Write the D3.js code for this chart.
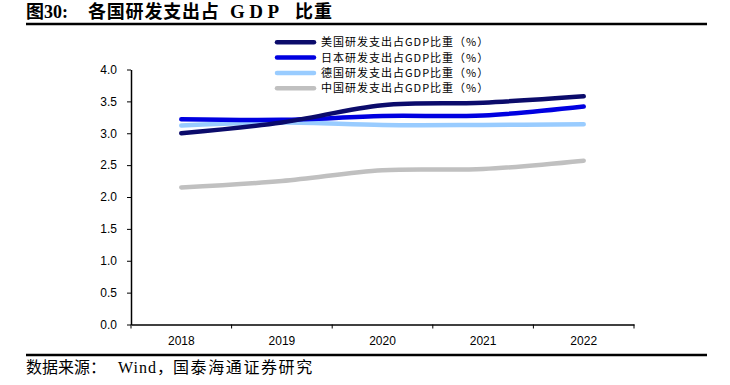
<!DOCTYPE html>
<html><head><meta charset="utf-8">
<script src="https://cdn.jsdelivr.net/npm/d3@7"></script>
<style>body{margin:0;background:#fff;}svg{display:block;}</style>
</head><body>
<svg id="c" width="730" height="385"></svg>
<script>
const years = ["2018","2019","2020","2021","2022"];
const usValues = [3.00, 3.17, 3.44, 3.48, 3.58];
const jpValues = [3.22, 3.21, 3.27, 3.28, 3.42];
const deValues = [3.12, 3.17, 3.13, 3.13, 3.14];
const cnValues = [2.15, 2.25, 2.42, 2.44, 2.57];
const seriesNames = ["美国研发支出占GDP比重（%）","日本研发支出占GDP比重（%）","德国研发支出占GDP比重（%）","中国研发支出占GDP比重（%）"];
const seriesColors = ["#0b0b6b","#0000e0","#99ccff","#c0c0c0"];
const yTicks = [0,0.5,1,1.5,2,2.5,3,3.5,4];

const svg = d3.select("#c");
const m = {l:131, r:634, t:69.5, b:324.5};
const x = d3.scaleBand().domain(years).range([m.l, m.r]);
const y = d3.scaleLinear().domain([0,4]).range([m.b, m.t]);

// title
const tf = "'Liberation Serif','Noto Sans CJK SC',serif";
const tt = (xx, s, fs, ls) => svg.append("text").attr("x",xx).attr("y",18)
  .attr("font-family",tf).attr("font-weight","bold").attr("font-size",fs)
  .attr("letter-spacing",ls).attr("fill","#000").text(s);
tt(26,"图30:",18,0);
tt(88,"各国研发支出占",18,0.8);
tt(230,"GDP",19,4.5);
tt(295,"比重",18,1);
svg.append("line").attr("x1",26).attr("x2",707).attr("y1",24).attr("y2",24)
  .attr("stroke","#000").attr("stroke-width",2.5);

// y axis
const ya = svg.append("g").attr("transform",`translate(${m.l},0)`)
  .call(d3.axisLeft(y).tickValues(yTicks).tickFormat(d3.format(".1f")).tickSize(4).tickSizeOuter(0).tickPadding(10));
ya.selectAll("text").attr("font-family","'Liberation Sans',Arial,sans-serif").attr("font-size",12).attr("fill","#000");
ya.select(".domain").attr("stroke","#000").attr("stroke-width",1.5);
ya.selectAll(".tick line").attr("stroke","#000");

// x axis
const xa = svg.append("g").attr("transform",`translate(0,${m.b})`)
  .call(d3.axisBottom(x).tickSize(0).tickPadding(12));
xa.selectAll("text").attr("font-family","'Liberation Sans',Arial,sans-serif").attr("font-size",12).attr("fill","#000");
xa.select(".domain").attr("stroke","#000").attr("stroke-width",1.5);
const bounds = years.map(d => x(d)).concat([x(years[years.length-1]) + x.bandwidth()]);
xa.selectAll(".bt").data(bounds).enter().append("line").attr("class","bt")
  .attr("x1",d=>d).attr("x2",d=>d).attr("y1",0).attr("y2",4).attr("stroke","#000");

// lines
const all = [usValues, jpValues, deValues, cnValues];
const line = d3.line().x((d,i)=>x(years[i]) + x.bandwidth()/2).y(d=>y(d)).curve(d3.curveCatmullRom.alpha(0.5));
[3,2,1,0].forEach(k=>{
  svg.append("path").attr("d", line(all[k])).attr("fill","none")
    .attr("stroke", seriesColors[k]).attr("stroke-width",4.5).attr("stroke-linecap","round");
});

// legend
const lg = svg.append("g");
seriesNames.forEach((n,i)=>{
  const yy = 42.3 + i*15.3;
  lg.append("line").attr("x1",277).attr("x2",314).attr("y1",yy).attr("y2",yy)
    .attr("stroke",seriesColors[i]).attr("stroke-width",4.5).attr("stroke-linecap","round");
  lg.append("text").attr("x",321).attr("y",yy+4)
    .attr("font-family","'Noto Sans CJK SC',sans-serif").attr("font-size",11).attr("letter-spacing",1).attr("fill","#000")
    .text(n);
});

// footer
svg.append("line").attr("x1",26).attr("x2",707).attr("y1",355).attr("y2",355)
  .attr("stroke","#000").attr("stroke-width",2.5);
const ft = (xx, s, ls) => svg.append("text").attr("x",xx).attr("y",373)
  .attr("font-family",tf).attr("font-size",16).attr("letter-spacing",ls).attr("fill","#000").text(s);
ft(26,"数据来源：",0);
ft(118,"Wind，",1);
ft(173,"国泰海通证券研究",1.6);
</script>
</body></html>
